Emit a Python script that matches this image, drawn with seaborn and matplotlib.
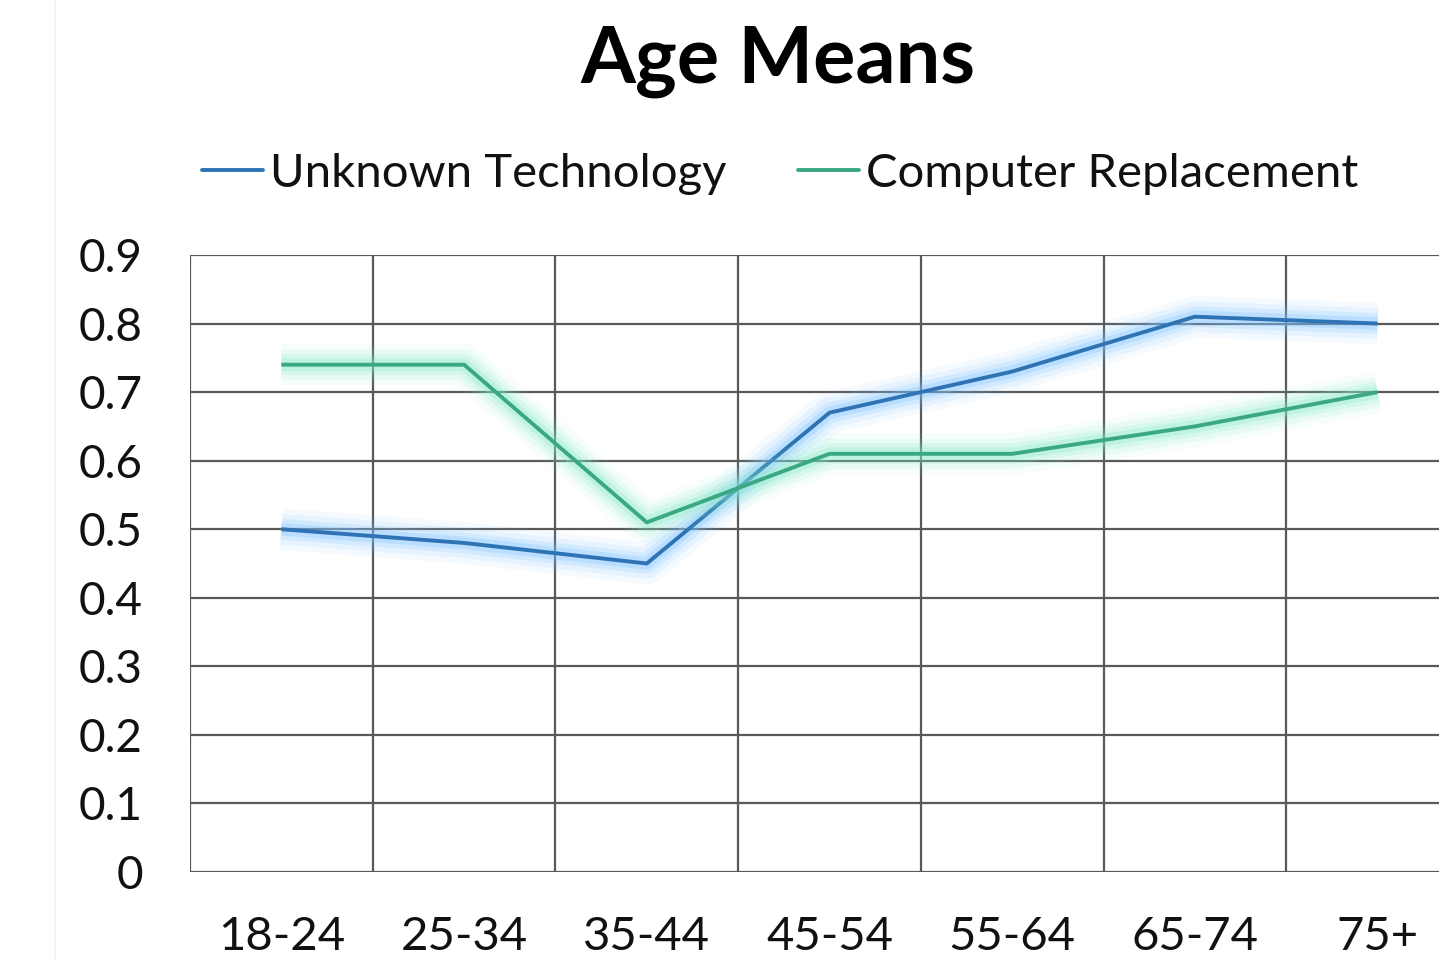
import matplotlib
matplotlib.use("Agg")
import matplotlib.pyplot as plt
import matplotlib.patheffects as pe
from matplotlib.lines import Line2D
import seaborn as sns
import pandas as pd

age_groups = ["18-24", "25-34", "35-44", "45-54", "55-64", "65-74", "75+"]
unknown_technology = [0.50, 0.48, 0.45, 0.67, 0.73, 0.81, 0.80]
computer_replacement = [0.74, 0.74, 0.51, 0.61, 0.61, 0.65, 0.70]
y_ticks = [0, 0.1, 0.2, 0.3, 0.4, 0.5, 0.6, 0.7, 0.8, 0.9]
y_tick_labels = ["0", "0.1", "0.2", "0.3", "0.4", "0.5", "0.6", "0.7", "0.8", "0.9"]
series_names = ["Unknown Technology", "Computer Replacement"]

sns.set_theme(style="white")
plt.rcParams["font.family"] = ["Lato", "DejaVu Sans"]

df = pd.DataFrame({
    "age": age_groups * 2,
    "value": unknown_technology + computer_replacement,
    "series": [series_names[0]] * len(age_groups) + [series_names[1]] * len(age_groups),
})

blue = "#2e74b5"
green = "#3aa883"
glow = {series_names[0]: "#7cc2ff", series_names[1]: "#86ecc8"}
palette = {series_names[0]: blue, series_names[1]: green}

fig = plt.figure(figsize=(14.39, 9.6), dpi=100)
fig.patch.set_facecolor("white")
ax = fig.add_axes([190 / 1439, 88 / 960, 1279 / 1439, 617 / 960])

sns.lineplot(data=df, x="age", y="value", hue="series", palette=palette,
             linewidth=2.8, ax=ax, legend=False, sort=False)

for line, name in zip(ax.get_lines(), series_names):
    g = glow[name]
    line.set_path_effects([
        pe.Stroke(linewidth=30, foreground=g, alpha=0.07),
        pe.Stroke(linewidth=22, foreground=g, alpha=0.12),
        pe.Stroke(linewidth=15, foreground=g, alpha=0.18),
        pe.Stroke(linewidth=9, foreground=g, alpha=0.28),
        pe.Normal(),
    ])
    line.set_solid_capstyle("butt")

ax.set_xlim(-0.5, 6.5)
ax.set_ylim(0, 0.9)
ax.set_yticks(y_ticks)
ax.set_yticklabels(y_tick_labels)
ax.set_xticks(range(len(age_groups)))
ax.set_xticklabels(age_groups)
ax.grid(False)
for y in y_ticks:
    ax.axhline(y, color="#595959", lw=1.6, zorder=0.5)
for x in [i - 0.5 for i in range(len(age_groups) + 1)]:
    ax.axvline(x, color="#595959", lw=1.6, zorder=0.5)
for s in ax.spines.values():
    s.set_visible(False)
ax.tick_params(axis="y", length=0, pad=34, labelsize=33, labelcolor="#111111")
ax.tick_params(axis="x", which="both", length=0, pad=32, labelsize=34, labelcolor="#111111")
ax.set_xlabel("")
ax.set_ylabel("")

fig.text(778 / 1439, 1 - 62 / 960, "Age Means", ha="center", va="center",
         fontsize=57, fontweight="bold", color="black")

handles = [Line2D([0], [0], color=blue, lw=2.8), Line2D([0], [0], color=green, lw=2.8)]
fig.legend(handles, series_names, loc="center", bbox_to_anchor=(780 / 1439, 1 - 174 / 960),
           ncol=2, frameon=False, fontsize=34, handlelength=1.3, handletextpad=0.15,
           columnspacing=1.5, labelcolor="#111111")

fig.add_artist(Line2D([55 / 1439, 55 / 1439], [0, 1], color="#f2f2f2", lw=1.2,
                      transform=fig.transFigure))

fig.savefig("out.png", dpi=100, facecolor="white")
